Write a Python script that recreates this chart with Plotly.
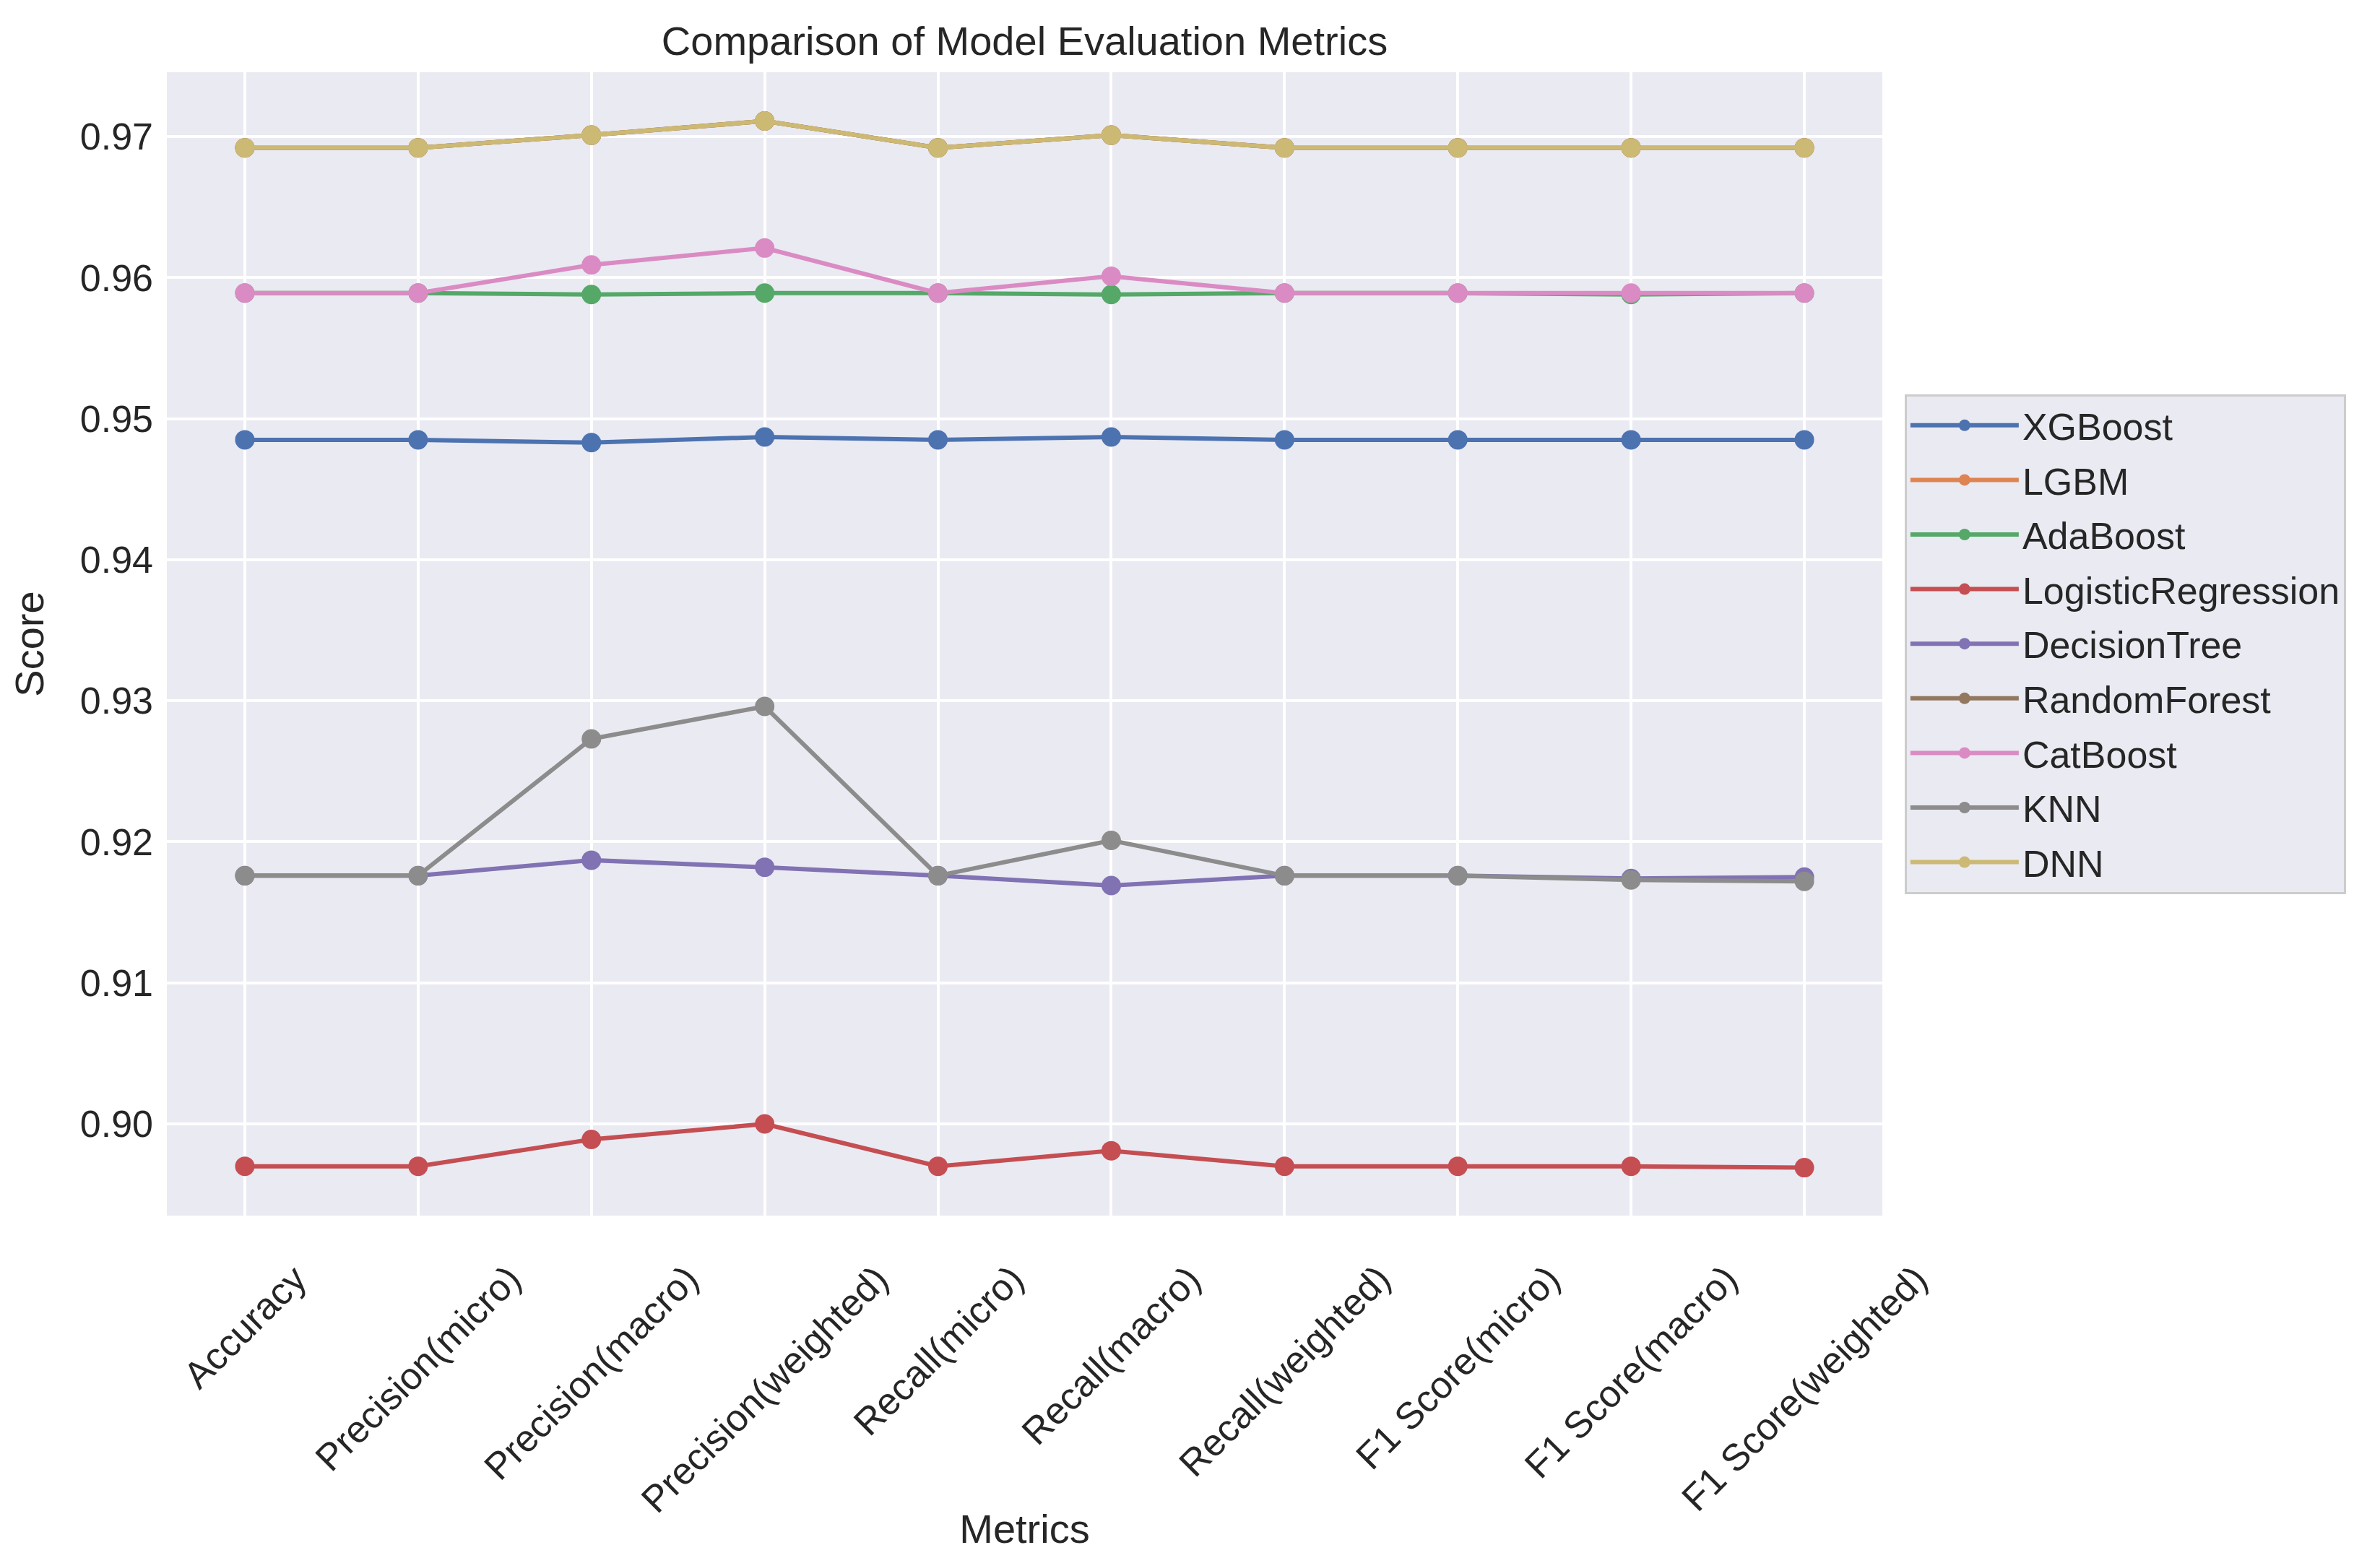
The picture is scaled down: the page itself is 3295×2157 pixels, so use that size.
import plotly.graph_objects as go

categories = ["Accuracy", "Precision(micro)", "Precision(macro)", "Precision(weighted)",
              "Recall(micro)", "Recall(macro)", "Recall(weighted)",
              "F1 Score(micro)", "F1 Score(macro)", "F1 Score(weighted)"]

xgboost = [0.9485, 0.9485, 0.9483, 0.9487, 0.9485, 0.9487, 0.9485, 0.9485, 0.9485, 0.9485]
lgbm = [0.9692, 0.9692, 0.9701, 0.9711, 0.9692, 0.9701, 0.9692, 0.9692, 0.9692, 0.9692]
adaboost = [0.9589, 0.9589, 0.9588, 0.9589, 0.9589, 0.9588, 0.9589, 0.9589, 0.9588, 0.9589]
logistic = [0.8970, 0.8970, 0.8989, 0.9000, 0.8970, 0.8981, 0.8970, 0.8970, 0.8970, 0.8969]
decision_tree = [0.9176, 0.9176, 0.9187, 0.9182, 0.9176, 0.9169, 0.9176, 0.9176, 0.9174, 0.9175]
random_forest = [0.9692, 0.9692, 0.9701, 0.9711, 0.9692, 0.9701, 0.9692, 0.9692, 0.9692, 0.9692]
catboost = [0.9589, 0.9589, 0.9609, 0.9621, 0.9589, 0.9601, 0.9589, 0.9589, 0.9589, 0.9589]
knn = [0.9176, 0.9176, 0.9273, 0.9296, 0.9176, 0.9201, 0.9176, 0.9176, 0.9173, 0.9172]
dnn = [0.9692, 0.9692, 0.9701, 0.9711, 0.9692, 0.9701, 0.9692, 0.9692, 0.9692, 0.9692]

model_names = ["XGBoost", "LGBM", "AdaBoost", "LogisticRegression", "DecisionTree",
               "RandomForest", "CatBoost", "KNN", "DNN"]
model_values = [xgboost, lgbm, adaboost, logistic, decision_tree,
                random_forest, catboost, knn, dnn]
colors = ["#4C72B0", "#DD8452", "#55A868", "#C44E52", "#8172B3",
          "#937860", "#DA8BC3", "#8C8C8C", "#CCB974"]

yticks = [0.90, 0.91, 0.92, 0.93, 0.94, 0.95, 0.96, 0.97]

FONT = "Liberation Sans, Arial, sans-serif"
TXT = "#262626"

# page body has an 8px default margin; the figure is sized to end at the window edge
W, H = 3287, 2149

fig = go.Figure()
x_idx = list(range(len(categories)))
for name, vals, col in zip(model_names, model_values, colors):
    fig.add_trace(go.Scatter(
        x=x_idx, y=vals, mode="lines+markers", name=name,
        legendgroup=name,
        line=dict(color=col, width=6),
        marker=dict(color=col, size=27, line=dict(width=0)),
    ))

annotations = []
for i, c in enumerate(categories):
    annotations.append(dict(
        x=i, xref="x", y=0, yref="paper", yshift=-55,
        text=c, textangle=-45, showarrow=False,
        xanchor="center", yanchor="top",
        font=dict(family=FONT, size=52, color=TXT),
    ))

fig.update_layout(
    width=W, height=H,
    margin=dict(l=223, r=689, t=92, b=474),
    paper_bgcolor="white",
    plot_bgcolor="#EAEAF2",
    font=dict(family=FONT, size=52, color=TXT),
    title=dict(text="Comparison of Model Evaluation Metrics",
               x=0.5, xref="paper", xanchor="center",
               y=1 - 48 / H, yref="container", yanchor="middle",
               font=dict(family=FONT, size=56, color=TXT)),
    xaxis=dict(
        range=[-0.45, 9.45], tickmode="array", tickvals=x_idx,
        showticklabels=False, showgrid=True, gridcolor="white", gridwidth=3.5,
        zeroline=False, showline=False, ticks="",
        title=dict(text="Metrics", font=dict(family=FONT, size=56, color=TXT), standoff=413),
    ),
    yaxis=dict(
        range=[0.8935, 0.97456], tickmode="array", tickvals=yticks,
        ticktext=[f"{v:.2f}" for v in yticks],
        showgrid=True, gridcolor="white", gridwidth=3.5,
        zeroline=False, showline=False, ticks="", ticklabelstandoff=18,
        tickfont=dict(family=FONT, size=52, color=TXT),
        title=dict(text="Score", font=dict(family=FONT, size=56, color=TXT), standoff=32),
    ),
    legend=dict(
        x=1.013, xanchor="left", y=0.5, yanchor="middle",
        bgcolor="#EAEAF2", bordercolor="#CCCCCC", borderwidth=3,
        font=dict(family=FONT, size=52, color=TXT),
        tracegroupgap=5, traceorder="grouped", itemwidth=150,
    ),
    annotations=annotations,
    showlegend=True,
)

fig.write_html("out.html")
